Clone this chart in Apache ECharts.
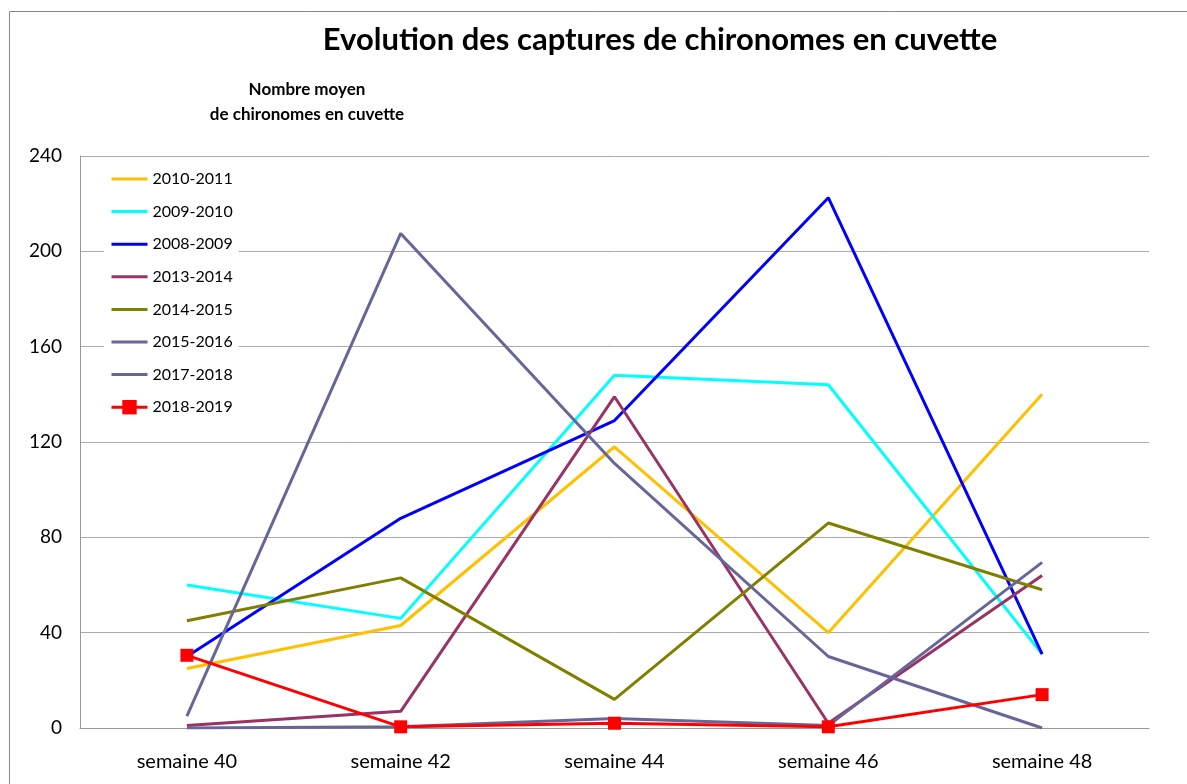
<!DOCTYPE html>
<html>
<head>
<meta charset="utf-8">
<script src="https://cdn.jsdelivr.net/npm/echarts@6/dist/echarts.min.js"></script>
<style>
  html, body { margin: 0; padding: 0; background: #fff; }
  #chart { width: 1187px; height: 784px; }
</style>
</head>
<body>
<div id="chart"></div>
<script>
// semaines
var weeks = ['semaine 40', 'semaine 42', 'semaine 44', 'semaine 46', 'semaine 48']

// valeurs
var s2010 = [25, 43, 118, 40, 140]
var s2009 = [60, 46, 148, 144, 31]
var s2008 = [30, 88, 129, 222.5, 31]
var s2013 = [1, 7, 139, 2, 64]
var s2014 = [45, 63, 12, 86, 58]
var s2015 = [5, 207.5, 111, 30, 0]
var s2017 = [0, 0.5, 4, 1, 69.5]
var s2018 = [30.5, 0.5, 2, 0.5, 14]

var legendNames = ['2010-2011', '2009-2010', '2008-2009', '2013-2014', '2014-2015', '2015-2016', '2017-2018', '2018-2019']

var font = 'Lato, "Open Sans", sans-serif'

function lineSerie(name, data, color) {
  return {
    name: name,
    type: 'line',
    data: data,
    symbol: 'none',
    lineStyle: { color: color, width: 3 },
    itemStyle: { color: color },
    emphasis: { disabled: true }
  }
}

var chart = echarts.init(document.getElementById('chart'))
var option = {
  animation: false,
  textStyle: { fontFamily: font },
  title: {
    text: 'Evolution des captures de chironomes en cuvette',
    left: 655,
    top: 19,
    textAlign: 'center',
    textStyle: { fontSize: 31, fontWeight: 'bold', color: '#000', fontFamily: font }
  },
  graphic: [
    {
      type: 'rect',
      shape: { x: 9.5, y: 11.5, width: 1200, height: 800 },
      style: { fill: 'none', stroke: '#888', lineWidth: 1 },
      silent: true
    },
    {
      type: 'text',
      x: 307,
      y: 77,
      style: {
        text: 'Nombre moyen\nde chironomes en cuvette',
        align: 'center',
        lineHeight: 25,
        font: 'bold 17px ' + font,
        fill: '#000'
      },
      silent: true
    }
  ],
  legend: {
    orient: 'vertical',
    left: 104,
    top: 167,
    itemGap: 16.6,
    itemWidth: 36,
    itemHeight: 18,
    backgroundColor: '#fff',
    padding: [4, 6, 4, 6],
    lineStyle: { width: 3 },
    textStyle: { fontSize: 16, color: '#000', fontFamily: font },
    data: legendNames.map(function (n, i) {
      // seules les 2018-2019 ont des marqueurs
      return i < 7 ? { name: n, itemStyle: { opacity: 0 } } : { name: n }
    })
  },
  grid: { left: 80, right: 38, top: 156, bottom: 56, containLabel: false },
  xAxis: {
    type: 'category',
    data: weeks,
    boundaryGap: true,
    axisLine: { lineStyle: { color: '#999', width: 1 } },
    axisTick: { show: false },
    axisLabel: { color: '#000', fontSize: 20, margin: 24, fontFamily: font }
  },
  yAxis: {
    type: 'value',
    min: 0,
    max: 240,
    interval: 40,
    axisLine: { show: true, lineStyle: { color: '#999', width: 1 } },
    axisTick: { show: false },
    axisLabel: { color: '#000', fontSize: 19, margin: 18, fontFamily: font },
    splitLine: { lineStyle: { color: '#aaa', width: 1 } }
  },
  series: [
    lineSerie('2010-2011', s2010, '#FFC000'),
    lineSerie('2009-2010', s2009, '#00FFFF'),
    lineSerie('2008-2009', s2008, '#0000FF'),
    lineSerie('2013-2014', s2013, '#993366'),
    lineSerie('2014-2015', s2014, '#808000'),
    lineSerie('2015-2016', s2015, '#666699'),
    lineSerie('2017-2018', s2017, '#666699'),
    {
      name: '2018-2019',
      type: 'line',
      data: s2018,
      symbol: 'rect',
      symbolSize: 13,
      showAllSymbol: true,
      lineStyle: { color: '#FF0000', width: 3 },
      itemStyle: { color: '#FF0000' },
      emphasis: { disabled: true }
    }
  ]
}
chart.setOption(option)
window.addEventListener('resize', () => {
  chart.resize()
})
</script>
</body>
</html>
